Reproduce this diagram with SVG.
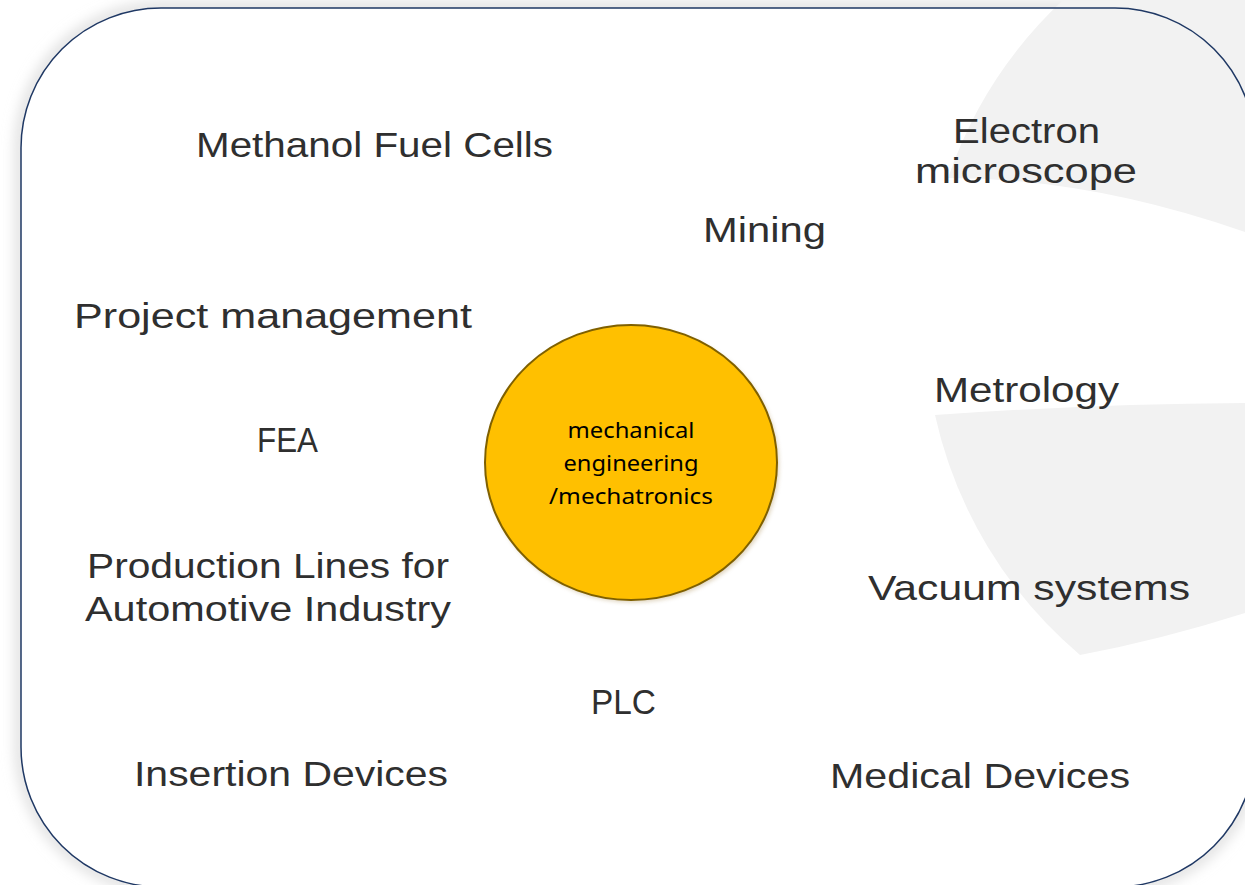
<svg xmlns="http://www.w3.org/2000/svg" width="1245" height="885" viewBox="0 0 1245 885">
<style>
.lbl{font-family:"Liberation Sans","Open Sans",sans-serif;font-size:35px;fill:#2f2f2f;text-anchor:middle}
.ctr{font-family:"Noto Sans","Liberation Sans",sans-serif;font-size:22px;fill:#000;text-anchor:middle}
</style>
<defs>
<filter id="glow" x="-5%" y="-5%" width="110%" height="110%">
<feGaussianBlur stdDeviation="7"/>
</filter>
<filter id="sh" x="-10%" y="-10%" width="120%" height="120%">
<feGaussianBlur stdDeviation="2"/>
</filter>
</defs>
<rect width="1245" height="885" fill="#ffffff"/>
<g id="frame-shadow">
<rect x="21" y="8" width="1234" height="879" rx="140" ry="140" fill="none" stroke="#d8d8d8" stroke-width="10" filter="url(#glow)"/>
<rect x="21" y="8" width="1234" height="879" rx="140" ry="140" fill="#ffffff"/>
</g>
<g id="background-shapes" fill="#f2f2f2">
<path d="M1063,0 A439,439 0 0 0 948,178 Q1090,178 1245,232 L1245,0 Z"/>
<path d="M935,415 Q1090,404 1245,403 L1245,613 Q1160,640 1080,655 A439,439 0 0 1 935,415 Z"/>
</g>
<g id="frame">
<rect x="21" y="8" width="1234" height="879" rx="140" ry="140" fill="none" stroke="#1f3864" stroke-width="1.5"/>
</g>
<g id="connectors"></g>
<g id="center">
<ellipse cx="633" cy="465" rx="146" ry="137.5" fill="#a08040" opacity="0.35" filter="url(#sh)"/>
<ellipse cx="631" cy="462.5" rx="146" ry="137.5" fill="#ffc000" stroke="#7f6000" stroke-width="2"/>
<text class="ctr" x="631" y="438" textLength="127" lengthAdjust="spacingAndGlyphs">mechanical</text>
<text class="ctr" x="631" y="471" textLength="135" lengthAdjust="spacingAndGlyphs">engineering</text>
<text class="ctr" x="631" y="504" textLength="164" lengthAdjust="spacingAndGlyphs">/mechatronics</text>
</g>
<g id="methanol"><text class="lbl" x="374.5" y="157" textLength="357" lengthAdjust="spacingAndGlyphs">Methanol Fuel Cells</text></g>
<g id="electron"><text class="lbl" x="1026.5" y="143" textLength="147" lengthAdjust="spacingAndGlyphs">Electron</text><text class="lbl" x="1026" y="183" textLength="222" lengthAdjust="spacingAndGlyphs">microscope</text></g>
<g id="mining"><text class="lbl" x="764.5" y="242" textLength="123" lengthAdjust="spacingAndGlyphs">Mining</text></g>
<g id="project"><text class="lbl" x="273" y="328" textLength="398" lengthAdjust="spacingAndGlyphs">Project management</text></g>
<g id="metrology"><text class="lbl" x="1026.5" y="402" textLength="185" lengthAdjust="spacingAndGlyphs">Metrology</text></g>
<g id="fea"><text class="lbl" x="287.5" y="452" textLength="61" lengthAdjust="spacingAndGlyphs">FEA</text></g>
<g id="production"><text class="lbl" x="268" y="578" textLength="362" lengthAdjust="spacingAndGlyphs">Production Lines for</text><text class="lbl" x="268" y="621" textLength="366" lengthAdjust="spacingAndGlyphs">Automotive Industry</text></g>
<g id="vacuum"><text class="lbl" x="1029" y="600" textLength="322" lengthAdjust="spacingAndGlyphs">Vacuum systems</text></g>
<g id="plc"><text class="lbl" x="623.5" y="714" textLength="65" lengthAdjust="spacingAndGlyphs">PLC</text></g>
<g id="insertion"><text class="lbl" x="291" y="786" textLength="314" lengthAdjust="spacingAndGlyphs">Insertion Devices</text></g>
<g id="medical"><text class="lbl" x="980" y="788" textLength="300" lengthAdjust="spacingAndGlyphs">Medical Devices</text></g>
</svg>
